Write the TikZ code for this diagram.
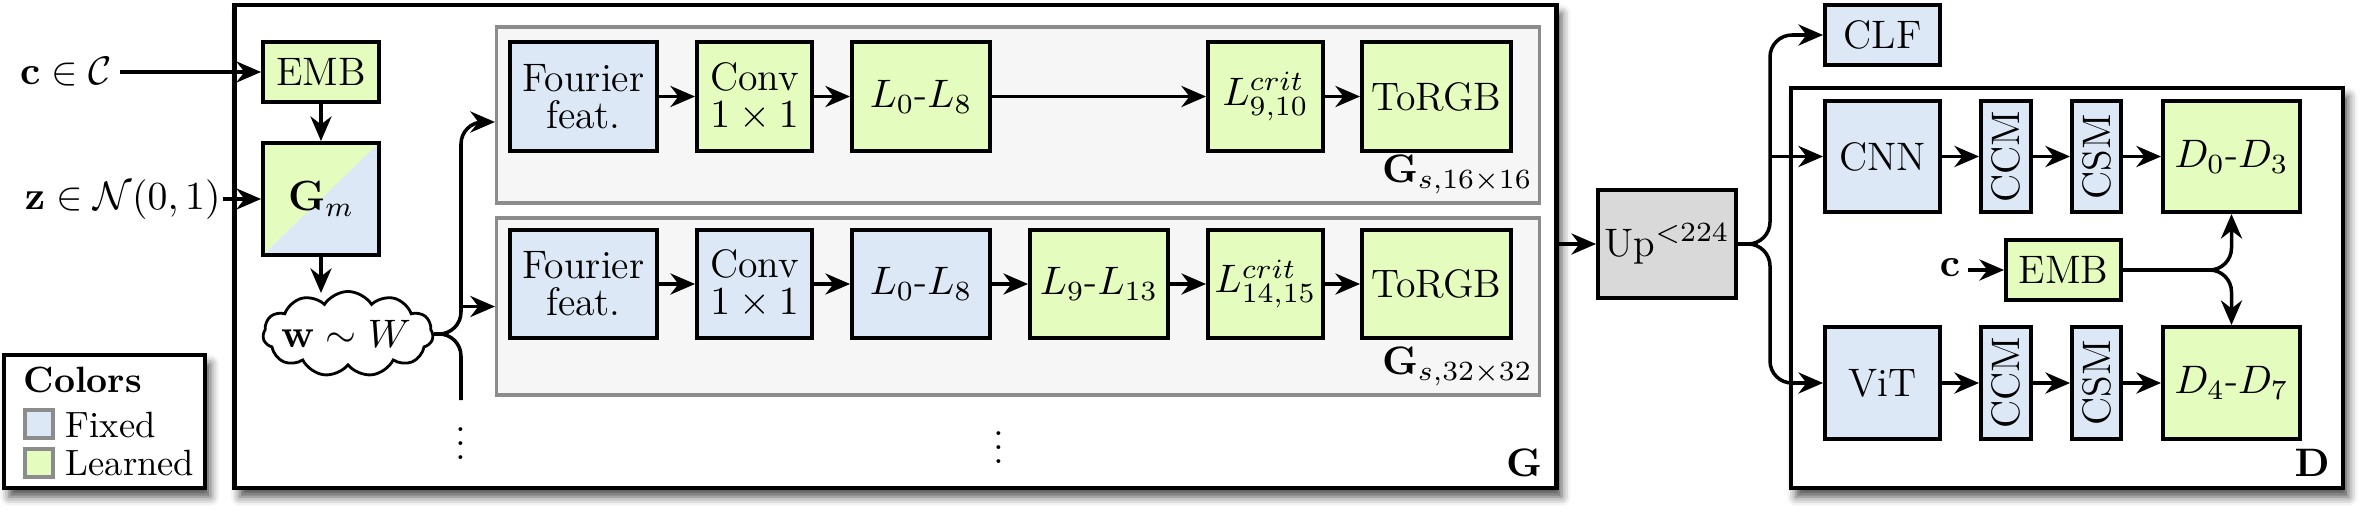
\documentclass[tikz,border=0pt]{standalone}
\usepackage{fix-cm}
\usepackage{graphicx}
\usetikzlibrary{arrows.meta,shapes.symbols,shadows.blur,calc}
\definecolor{fixedc}{RGB}{220,232,246}
\definecolor{learnc}{RGB}{228,252,190}
\definecolor{upc}{RGB}{217,217,217}
\definecolor{grpfill}{RGB}{246,246,247}
\definecolor{grpdraw}{RGB}{140,140,140}
\tikzset{
  blk/.style={draw, line width=1.1pt, inner sep=0pt, align=center},
  fixedblk/.style={blk, fill=fixedc},
  learnblk/.style={blk, fill=learnc},
  arr/.style={-{Stealth[length=7pt,width=6pt]}, line width=1pt},
  plainline/.style={line width=1pt},
  grp/.style={draw=grpdraw, fill=grpfill, line width=1pt},
  outer/.style={draw, fill=white, line width=1.3pt,
    blur shadow={shadow xshift=1.5pt, shadow yshift=-2.5pt, shadow blur radius=2.5pt, shadow opacity=70}},
  swatch/.style={draw=grpdraw, line width=1pt, minimum size=0.28cm, inner sep=0pt},
  lbl/.style={inner sep=0pt},
  legtxt/.style={anchor=base west, inner sep=0pt, font=\fontsize{10.4}{12}\selectfont},
}
\begin{document}
\begin{tikzpicture}[x=0.01cm, y=-0.01cm, font=\fontsize{11.3}{10.5}\selectfont]
\useasboundingbox (0,0) rectangle (2363,515);

% outer boxes
\node[outer, minimum width=13.21cm, minimum height=4.83cm] (G) at (895.5,246.5) {};
\node[outer, minimum width=5.52cm, minimum height=4.0cm] (D) at (2067,288) {};
\node[outer, minimum width=2.01cm, minimum height=1.33cm] (leg) at (104.5,421.5) {};

% legend
\node[legtxt] (legt) at (23,392) {\textbf{Colors}};
\node[swatch, fill=fixedc] (sw1) at (39,424) {};
\node[legtxt] (legf) at (65,437) {Fixed};
\node[swatch, fill=learnc] (sw2) at (39,463) {};
\node[legtxt] (legl) at (65,475) {Learned};

% inputs
\node[learnblk, minimum width=1.16cm, minimum height=0.6cm] (embG) at (321,72) {EMB};
\node[blk, minimum width=1.16cm, minimum height=1.12cm,
  path picture={
    \fill[learnc] (path picture bounding box.north west) -- (path picture bounding box.north east) -- (path picture bounding box.south west) -- cycle;
    \fill[fixedc] (path picture bounding box.north east) -- (path picture bounding box.south east) -- (path picture bounding box.south west) -- cycle;
  }] (Gm) at (321,199) {\large$\mathbf{G}_m$};
\node[anchor=east, inner sep=2pt] (ctext) at (120,72) {$\mathbf{c}\in\mathcal{C}$};
\node[anchor=east, inner sep=0.5pt] (ztext) at (223,200) {$\mathbf{z}\in\mathcal{N}(0,1)$};
\node[cloud, draw, line width=0.8pt, cloud puffs=11, cloud puff arc=115, cloud ignores aspect,
  minimum width=1.7cm, minimum height=0.85cm, inner sep=0pt] (cloud) at (348,334) {};
\node[lbl] (wtext) at (346,334) {$\mathbf{w}\sim W$};

\draw[arr] (ctext.east |- embG.west) -- (embG.west);
\draw[arr] (ztext.east |- Gm.west) -- (Gm.west);
\draw[arr] (embG.south) -- (Gm.north);
\coordinate (ctop) at (321,293);
\draw[arr] (Gm.south) -- (Gm.south |- ctop);

% synthesis groups
\node[grp, minimum width=10.42cm, minimum height=1.76cm] (gs1) at (1018,115) {};
\node[grp, minimum width=10.42cm, minimum height=1.77cm] (gs2) at (1018,306.5) {};

\node[fixedblk, minimum width=1.47cm, minimum height=1.09cm] (f1) at (583.5,96.5) {Fourier\\feat.};
\node[learnblk, minimum width=1.15cm, minimum height=1.09cm] (c1) at (754.5,96.5) {Conv\\$1\times1$};
\node[learnblk, minimum width=1.38cm, minimum height=1.09cm] (l1) at (921,96.5) {$L_0$-$L_8$};
\node[learnblk, minimum width=1.15cm, minimum height=1.09cm] (lc1) at (1265.5,96.5) {$L^{crit}_{9,10}$};
\node[learnblk, minimum width=1.49cm, minimum height=1.09cm] (t1) at (1436.5,96.5) {ToRGB};

\node[fixedblk, minimum width=1.47cm, minimum height=1.08cm] (f2) at (583.5,284) {Fourier\\feat.};
\node[fixedblk, minimum width=1.15cm, minimum height=1.08cm] (c2) at (754.5,284) {Conv\\$1\times1$};
\node[fixedblk, minimum width=1.38cm, minimum height=1.08cm] (l2) at (921,284) {$L_0$-$L_8$};
\node[learnblk, minimum width=1.38cm, minimum height=1.08cm] (l9) at (1099,284) {$L_9$-$L_{13}$};
\node[learnblk, minimum width=1.15cm, minimum height=1.08cm] (lc2) at (1265.5,284) {$L^{crit}_{14,15}$};
\node[learnblk, minimum width=1.49cm, minimum height=1.08cm] (t2) at (1436.5,284) {ToRGB};

\node[anchor=south east, lbl] (lab1) at ([xshift=-0.08cm,yshift=0.1cm]gs1.south east) {$\mathbf{G}_{s,16\times16}$};
\node[anchor=south east, lbl] (lab2) at ([xshift=-0.08cm,yshift=0.1cm]gs2.south east) {$\mathbf{G}_{s,32\times32}$};
\node[anchor=south east, lbl] (labG) at ([xshift=-0.16cm,yshift=0.13cm]G.south east) {$\mathbf{G}$};

\draw[arr] (f1) -- (c1);
\draw[arr] (c1) -- (l1);
\draw[arr] (l1) -- (lc1);
\draw[arr] (lc1) -- (t1);
\draw[arr] (f2) -- (c2);
\draw[arr] (c2) -- (l2);
\draw[arr] (l2) -- (l9);
\draw[arr] (l9) -- (lc2);
\draw[arr] (lc2) -- (t2);

% branches from w
\coordinate (wx) at (461,334);
\coordinate (gin1) at ([yshift=-0.07cm]gs1.west);
\coordinate (wend) at (461,400);
\draw[arr, rounded corners=0.22cm] (cloud.east) -| (wx |- gin1) -- (gin1);
\draw[arr] (wx |- gs2.west) -- (gs2.west);
\draw[plainline, rounded corners=0.22cm] (cloud.east) -| (wend);
\node[lbl] (vd1) at (461,433) {$\vdots$};
\node[lbl] (vd2) at (999,437) {$\vdots$};

% Up
\node[blk, fill=upc, minimum width=1.38cm, minimum height=1.08cm] (up) at (1667,244) {Up$^{<224}$};
\draw[arr] (G.east |- up.west) -- (up.west);

% discriminator
\node[fixedblk, minimum width=1.15cm, minimum height=0.6cm] (clf) at (1882.5,35) {CLF};
\node[fixedblk, minimum width=1.15cm, minimum height=1.11cm] (cnn) at (1882.5,156.5) {CNN};
\node[fixedblk, minimum width=0.5cm, minimum height=1.11cm] (ccm1) at (2006,156.5) {\rotatebox{90}{CCM}};
\node[fixedblk, minimum width=0.49cm, minimum height=1.11cm] (csm1) at (2096.5,156.5) {\rotatebox{90}{CSM}};
\node[learnblk, minimum width=1.37cm, minimum height=1.11cm] (d03) at (2231.5,156.5) {$D_0$-$D_3$};
\node[fixedblk, minimum width=1.15cm, minimum height=1.12cm] (vit) at (1882.5,383) {ViT};
\node[fixedblk, minimum width=0.5cm, minimum height=1.12cm] (ccm2) at (2006,383) {\rotatebox{90}{CCM}};
\node[fixedblk, minimum width=0.49cm, minimum height=1.12cm] (csm2) at (2096.5,383) {\rotatebox{90}{CSM}};
\node[learnblk, minimum width=1.37cm, minimum height=1.12cm] (d47) at (2231.5,383) {$D_4$-$D_7$};
\node[learnblk, minimum width=1.15cm, minimum height=0.6cm] (embD) at (2063.5,270) {EMB};
\node[inner sep=2pt] (cD) at (1950,268) {$\mathbf{c}$};
\node[anchor=south east, lbl] (labD) at ([xshift=-0.15cm,yshift=0.13cm]D.south east) {$\mathbf{D}$};

\coordinate (ux) at (1770,244);
\draw[arr, rounded corners=0.22cm] (up.east) -| (ux |- clf.west) -- (clf.west);
\draw[arr, rounded corners=0.22cm] (up.east) -| (ux |- vit.west) -- (vit.west);
\draw[arr] (ux |- cnn.west) -- (cnn.west);

\draw[arr] (cnn) -- (ccm1);
\draw[arr] (ccm1) -- (csm1);
\draw[arr] (csm1) -- (d03);
\draw[arr] (vit) -- (ccm2);
\draw[arr] (ccm2) -- (csm2);
\draw[arr] (csm2) -- (d47);

\draw[arr] (cD.east |- embD.west) -- (embD.west);
\draw[arr, rounded corners=0.22cm] (embD.east) -| (d03.south);
\draw[arr, rounded corners=0.22cm] (embD.east) -| (d47.north);
\end{tikzpicture}
\end{document}
